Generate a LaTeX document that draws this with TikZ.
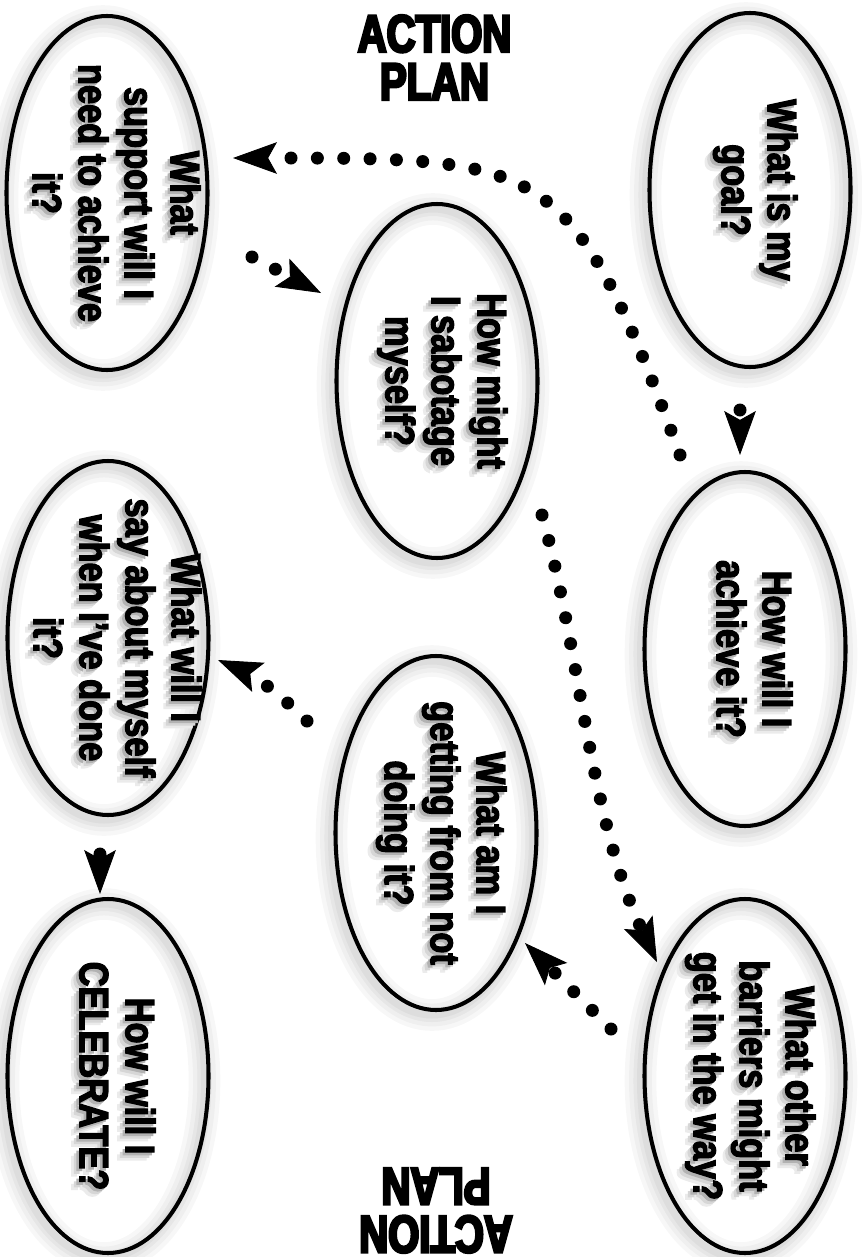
\documentclass[tikz,border=0pt]{standalone}
\usepackage{fontspec}
\usepackage{xcolor}
\usetikzlibrary{shapes.geometric,arrows.meta}
\newfontfamily\askfont{Liberation Sans}[FakeStretch=0.84,BoldFeatures={FakeBold=3}]
\newfontfamily\planfont{Liberation Sans}[FakeStretch=0.76,BoldFeatures={FakeBold=5}]
\newcommand\askbox[1]{\begin{tabular}{@{}c@{}}#1\end{tabular}}
\newcommand\ask[1]{\makebox[0pt][l]{\hspace{4.5pt}\raisebox{-4.5pt}{\color{black!8}\askbox{#1}}}\makebox[0pt][l]{\hspace{3pt}\raisebox{-3pt}{\color{black!16}\askbox{#1}}}\makebox[0pt][l]{\hspace{1.5pt}\raisebox{-1.5pt}{\color{black!30}\askbox{#1}}}\askbox{#1}}

\begin{document}
\begin{tikzpicture}[
  bubble/.style={ellipse, draw, line width=2.3pt, minimum width=4.02cm, minimum height=7.08cm, inner sep=0pt,
    preaction={draw=black, opacity=0.03, line width=18pt, transform canvas={shift={(-0.08,-0.1)}}},
    preaction={draw=black, opacity=0.03, line width=13pt, transform canvas={shift={(-0.08,-0.1)}}},
    preaction={draw=black, opacity=0.04, line width=8pt, transform canvas={shift={(-0.08,-0.1)}}},
    preaction={draw=black, opacity=0.04, line width=4pt, transform canvas={shift={(-0.08,-0.1)}}}},
  asktext/.style={rotate=-90, inner sep=0pt, font=\askfont\bfseries\fontsize{23.3}{26.2}\selectfont},
  plantext/.style={align=center, inner sep=0pt, font=\planfont\bfseries\fontsize{30}{27.3}\selectfont},
  flow/.style={line width=7.4pt, line cap=round, dash pattern=on 0pt off 15pt,
    -{Stealth[length=25pt, width=18pt, inset=5pt, line width=0.5pt]}}]
\useasboundingbox (0,0) rectangle (17.22,-25.14);

\node[plantext] (plan-top) at (8.69,-1.15) {ACTION\\PLAN};
\node[plantext, rotate=180] (plan-bottom) at (8.72,-24.21) {ACTION\\PLAN};

% right column
\node[bubble] (goal) at (15,-3.8) {};
\node[asktext] (goal-q) at (goal) {\ask{What is my\\goal?}};
\node[bubble] (achieve) at (14.9,-12.98) {};
\node[asktext] (achieve-q) at (achieve) {\ask{How will I\\achieve it?}};
\node[bubble] (barriers) at (14.9,-21.52) {};
\node[asktext] (barriers-q) at (barriers) {\ask{What other\\barriers might\\get in the way?}};

% middle column
\node[bubble] (sabotage) at (8.74,-7.62) {};
\node[asktext] (sabotage-q) at (sabotage) {\ask{How might\\I sabotage\\myself?}};
\node[bubble] (notdoing) at (8.72,-16.66) {};
\node[asktext] (notdoing-q) at (notdoing) {\ask{What am I\\getting from not\\doing it?}};

% left column
\node[bubble] (support) at (2.14,-3.86) {};
\node[asktext] (support-q) at (support) {\ask{What\\support will I\\need to achieve\\it?}};
\node[bubble] (say) at (2.16,-12.76) {};
\node[asktext] (say-q) at (say) {\ask{What will I\\say about myself\\when I’ve done\\it?}};
\node[bubble] (celebrate) at (2.16,-21.52) {};
\node[asktext] (celebrate-q) at (celebrate) {\ask{How will I\\CELEBRATE?}};

% dotted arrows
\draw[flow] ([shift={(-0.2,-0.82)}]goal.south) -- ([shift={(-0.1,0.3)}]achieve.north);
\draw[flow] ([shift={(-1.3,0.3)}]achieve.north) .. controls +(-2.16,5.92) and +(6.3,0) .. ([shift={(2.52,0.7)}]support.center);
\draw[flow] ([shift={(2.9,-1.28)}]support.center) -- ([shift={(-2.32,1.76)}]sabotage.center);
\draw[flow] ([shift={(2.1,-2.68)}]sabotage.center) .. controls +(0.76,-2.7) and +(-1.34,2.84) .. ([shift={(-1.76,2.28)}]barriers.center);
\draw[flow] ([shift={(-2.68,0.94)}]barriers.center) -- ([shift={(1.78,-2.2)}]notdoing.center);
\draw[flow] ([shift={(-2.58,2.24)}]notdoing.center) .. controls +(-0.5,0.5) and +(0.7,-0.3) .. ([shift={(2.2,-0.44)}]say.center);
\draw[flow] ([shift={(-0.16,-0.74)}]say.south) -- ([shift={(-0.16,0.06)}]celebrate.north);
\end{tikzpicture}
\end{document}
